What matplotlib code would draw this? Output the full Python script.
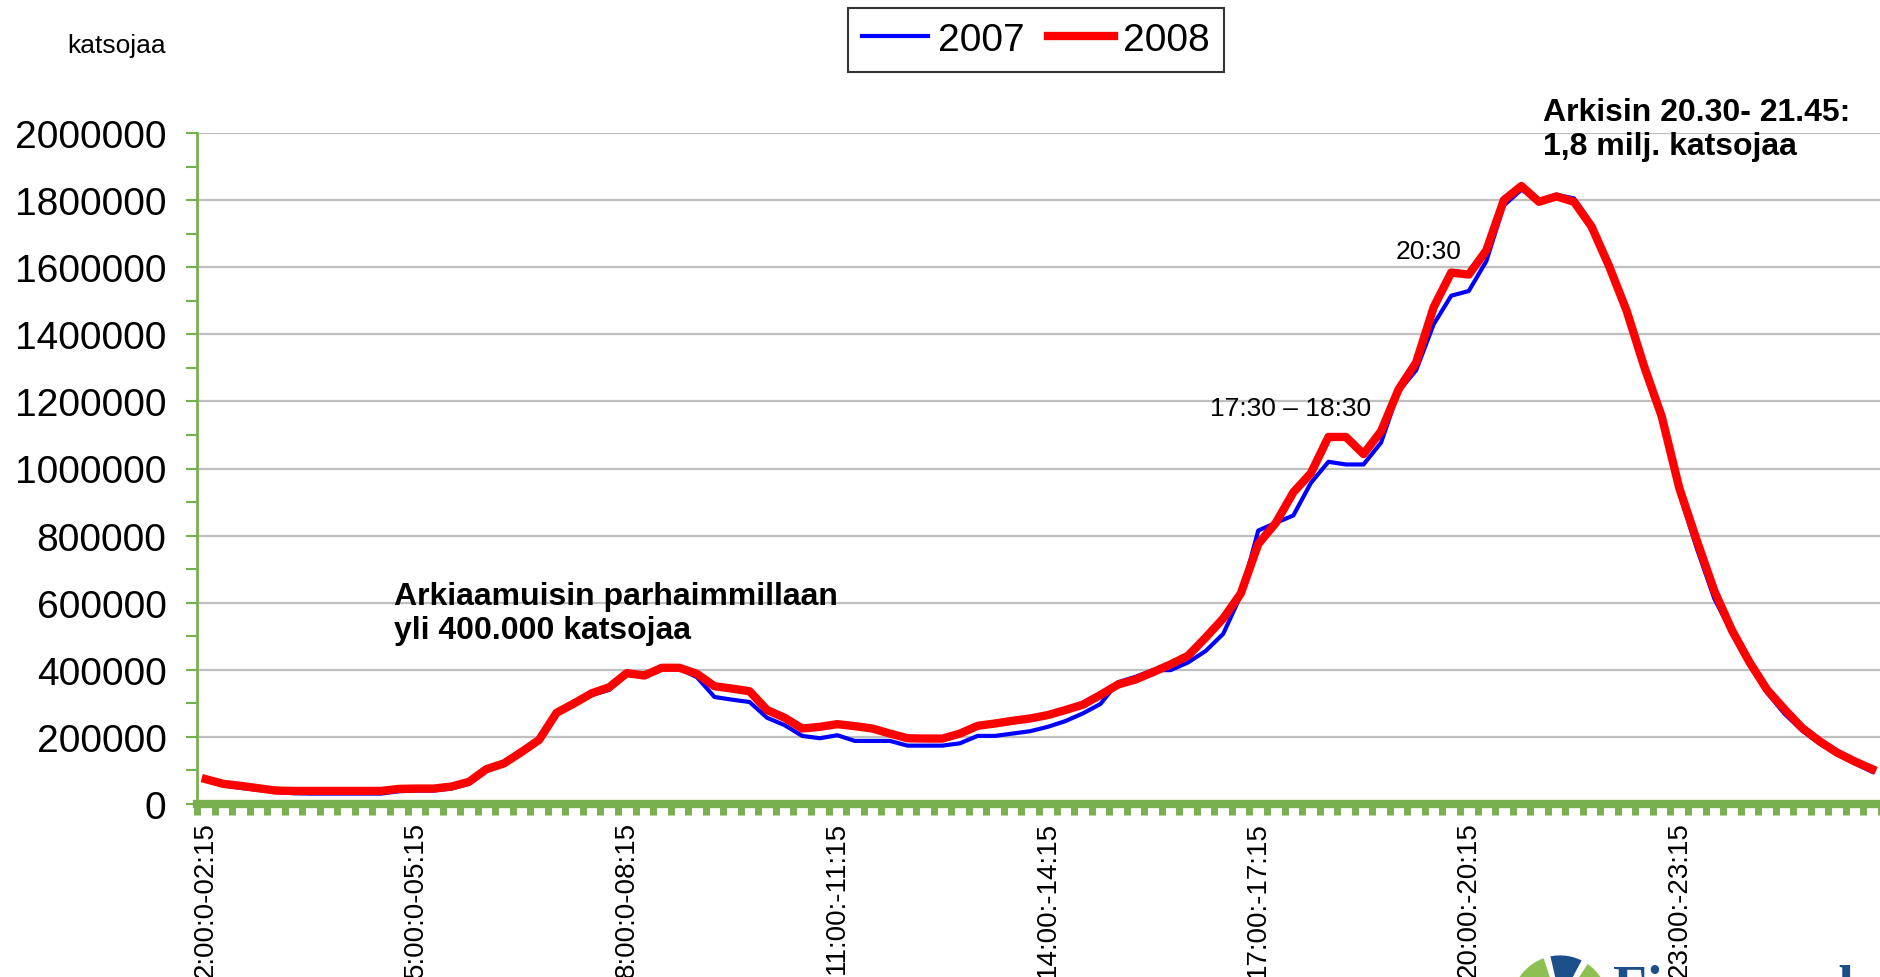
import matplotlib.pyplot as plt
import numpy as np
from matplotlib.patches import Wedge
from matplotlib.ticker import MultipleLocator, FuncFormatter

plt.rcParams['font.family'] = ['Liberation Sans', 'DejaVu Sans']

W, H = 1881, 978

# viewers per 15 min slot, 2:00 -> 1:45 next night
viewers_2007 = [70000, 55000, 48000, 42000, 36000, 32000, 31000, 31000, 31000, 31000,
                31000, 38000, 40000, 40000, 46000, 60000, 98000, 117000, 151000, 188000,
                268000, 296000, 325000, 340000, 388000, 390000, 405000, 403000, 378000, 319000,
                311000, 304000, 257000, 235000, 203000, 196000, 205000, 188000, 188000, 188000,
                174000, 174000, 174000, 181000, 203000, 203000, 210000, 217000, 230000, 247000,
                270000, 298000, 363000, 379000, 399000, 399000, 422000, 456000, 507000, 621000,
                815000, 838000, 860000, 957000, 1020000, 1012000, 1012000, 1077000, 1230000, 1293000,
                1430000, 1515000, 1529000, 1618000, 1784000, 1831000, 1800000, 1816000, 1805000, 1730000,
                1611000, 1470000, 1296000, 1147000, 927000, 762000, 612000, 510000, 420000, 332000,
                269000, 219000, 180000, 148000, 121000, 96000]

viewers_2008 = [74000, 60000, 54000, 47000, 40000, 39000, 39000, 39000, 39000, 39000,
                39000, 45000, 46000, 46000, 52000, 66000, 104000, 121000, 155000, 191000,
                272000, 300000, 330000, 348000, 390000, 383000, 406000, 406000, 388000, 351000,
                344000, 336000, 280000, 257000, 225000, 230000, 238000, 232000, 225000, 210000,
                196000, 195000, 195000, 210000, 233000, 240000, 248000, 255000, 265000, 280000,
                296000, 325000, 356000, 371000, 393000, 416000, 442000, 496000, 553000, 627000,
                775000, 838000, 929000, 986000, 1094000, 1094000, 1043000, 1111000, 1236000, 1316000,
                1481000, 1584000, 1578000, 1650000, 1800000, 1842000, 1795000, 1811000, 1795000, 1721000,
                1603000, 1470000, 1304000, 1155000, 942000, 785000, 635000, 518000, 423000, 341000,
                282000, 227000, 187000, 153000, 127000, 104000]

label_slots = [0, 12, 24, 36, 48, 60, 72, 84]
slot_labels = ["2:00:0-02:15", "5:00:0-05:15", "8:00:0-08:15", "11:00:-11:15",
               "14:00:-14:15", "17:00:-17:15", "20:00:-20:15", "23:00:-23:15"]

GREEN = '#79B04F'


def fx(px):
    return px / W


def fy(py):
    return 1 - py / H


fig = plt.figure(figsize=(W / 100, H / 100), dpi=100)
ax = fig.add_axes([fx(197), fy(805), fx(1881) - fx(197), fy(134) - fy(805)])

x = np.arange(len(viewers_2007))
ax.plot(x, viewers_2007, color='#0000FF', lw=3, label='2007', zorder=3)
ax.plot(x, viewers_2008, color='#FF0000', lw=6, label='2008', zorder=4)

ax.set_xlim(-0.5, len(x) - 0.5)
ax.set_ylim(0, 2000000)

# y axis
ax.yaxis.set_major_locator(MultipleLocator(200000))
ax.yaxis.set_minor_locator(MultipleLocator(100000))
ax.yaxis.set_major_formatter(FuncFormatter(lambda v, p: f'{v:.0f}'))
ax.tick_params(axis='y', which='both', color=GREEN, length=8, width=1.5,
               labelcolor='black', labelsize=28, pad=14)
ax.grid(axis='y', color='#BFBFBF', lw=1.6)
ax.set_axisbelow(True)

# x axis: thick green line with a bump at every slot boundary
ax.set_xticks(label_slots)
ax.set_xticklabels(slot_labels, rotation=90, fontsize=20)
ax.tick_params(axis='x', which='major', length=0, pad=12)
ax.set_xticks(np.arange(-0.5, len(x), 1), minor=True)
ax.tick_params(axis='x', which='minor', color=GREEN, length=8, width=5, direction='out')

for s in ['top', 'right']:
    ax.spines[s].set_visible(False)
ax.spines['left'].set_color(GREEN)
ax.spines['left'].set_linewidth(2)
ax.spines['bottom'].set_color(GREEN)
ax.spines['bottom'].set_linewidth(6)
ax.spines['bottom'].set_zorder(5)

handles, labels = ax.get_legend_handles_labels()
leg = fig.legend(handles, labels, loc='center', bbox_to_anchor=(fx(1036), fy(41)),
                 ncol=2, fontsize=28, frameon=True, fancybox=False, edgecolor='black',
                 handlelength=1.7, handletextpad=0.25, columnspacing=0.6,
                 borderpad=0.35, borderaxespad=0)
leg.get_frame().set_linewidth(1.5)

# texts
fig.text(fx(117), fy(46), 'katsojaa', ha='center', va='center', fontsize=19)
fig.text(fx(394), fy(614), 'Arkiaamuisin parhaimmillaan\nyli 400.000 katsojaa',
         ha='left', va='center', fontsize=23, weight='bold', linespacing=1.15)
fig.text(fx(1543), fy(130), 'Arkisin 20.30- 21.45:\n1,8 milj. katsojaa',
         ha='left', va='center', fontsize=23, weight='bold', linespacing=1.2)
fig.text(fx(1210), fy(409), '17:30 \u2013 18:30', ha='left', va='center', fontsize=19)
fig.text(fx(1396), fy(252), '20:30', ha='left', va='center', fontsize=19)

# Finnpanel logo, cut by the lower edge as in the original
logo = fig.add_axes([fx(1510), fy(1055), 100 / W, 100 / H])
logo.set_xlim(-1, 1)
logo.set_ylim(-1, 1)
logo.axis('off')
for t1, t2, c in [(108, 175, '#8CC152'), (62, 103, '#1B4F8A'), (5, 57, '#8CC152')]:
    logo.add_patch(Wedge((0, 0), 1, t1, t2, facecolor=c, edgecolor='white', lw=2))
fig.text(fx(1613), fy(1005), 'Finnpanel', family=['Liberation Serif', 'DejaVu Serif'],
         fontsize=40, weight='bold', color='#1B4F8A', va='baseline')

fig.savefig('out.png', dpi=100)
